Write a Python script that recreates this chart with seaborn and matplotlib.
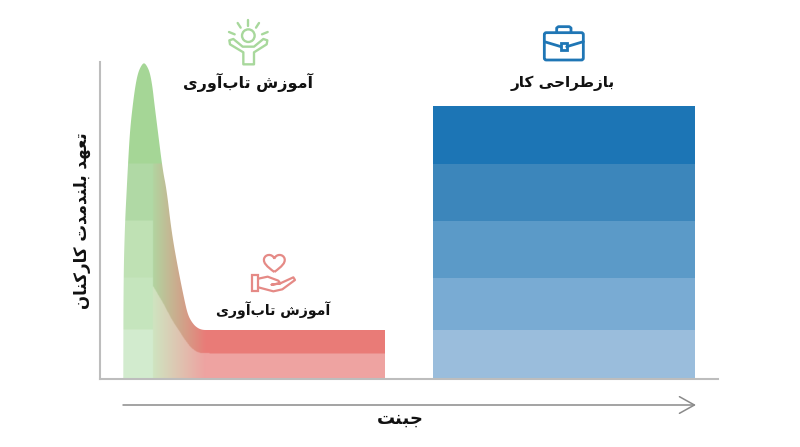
"""Resilience training vs job redesign: long-term employee commitment."""
import numpy as np
import pandas as pd
import matplotlib
matplotlib.use("Agg")
import matplotlib.pyplot as plt
import seaborn as sns
from matplotlib.colors import to_rgb
from matplotlib.patches import Circle, FancyBboxPatch, PathPatch, Polygon, Rectangle
from matplotlib.path import Path

TITLE_RESILIENCE = "آموزش تاب\u200cآوری"
TITLE_REDESIGN = "بازطراحی کار"
Y_LABEL = "تعهد بلندمدت کارکنان"
X_LABEL = "جبنت"

# band tops above the baseline, shared by both treatments
band_tops = [49, 101, 158, 215, 273]
band_names = ["b1", "b2", "b3", "b4", "b5"]
blue_heights = [49, 52, 57, 57, 58]
blue_colors = ["#9abddc", "#79abd3", "#5b9ac8", "#3c86bb", "#1c75b5"]
blue_span = [433, 695]

green_colors = ["#d3ecce", "#c6e5bd", "#bfe1b5", "#b0d9a5", "#a5d697"]

# outline of the green-to-red shape, height above the baseline
outline_x = [123.3, 123.5, 125, 126.7, 127.7, 130, 133, 135.5, 138, 141, 144, 147, 150, 152.5, 154.3,
             157.7, 162.7, 166.7, 171.7, 178.3, 185, 188, 191.7, 196, 201.7, 210, 385]
outline_h = [0, 102, 156, 189, 209, 249, 276, 294, 306, 313, 316.5, 313, 306, 292, 276,
             249, 209, 189, 146, 109, 76, 64, 57, 52, 49, 49, 49]
# edge between the dark and pale red bands
inner_x = [153.3, 158, 165, 171, 178.3, 184, 190, 196, 203.3, 385]
inner_h = [92, 84, 72, 60, 49, 40, 32, 27, 25, 25]

gradient_span = [153, 205]
green_dark, red_dark = "#b2d4a0", "#e97c78"
green_pale, red_pale = "#cfe4c0", "#eea3a1"

ISO, FIN, INI, MED = range(4)
FORMS = {
    "ا": (0xFE8D, 0xFE8E), "آ": (0xFE81, 0xFE82), "د": (0xFEA9, 0xFEAA),
    "ر": (0xFEAD, 0xFEAE), "ز": (0xFEAF, 0xFEB0), "و": (0xFEED, 0xFEEE),
    "ب": (0xFE8F, 0xFE90, 0xFE91, 0xFE92), "ت": (0xFE95, 0xFE96, 0xFE97, 0xFE98),
    "ج": (0xFE9D, 0xFE9E, 0xFE9F, 0xFEA0), "ح": (0xFEA1, 0xFEA2, 0xFEA3, 0xFEA4),
    "ش": (0xFEB5, 0xFEB6, 0xFEB7, 0xFEB8), "ط": (0xFEC1, 0xFEC2, 0xFEC3, 0xFEC4),
    "ع": (0xFEC9, 0xFECA, 0xFECB, 0xFECC), "ک": (0xFB8E, 0xFB8F, 0xFB90, 0xFB91),
    "ل": (0xFEDD, 0xFEDE, 0xFEDF, 0xFEE0), "م": (0xFEE1, 0xFEE2, 0xFEE3, 0xFEE4),
    "ن": (0xFEE5, 0xFEE6, 0xFEE7, 0xFEE8), "ه": (0xFEE9, 0xFEEA, 0xFEEB, 0xFEEC),
    "ی": (0xFBFC, 0xFBFD, 0xFBFE, 0xFBFF),
}


def shape(text):
    # matplotlib has no bidi or joining, so pick glyph forms and lay out right to left
    out = []
    for i, ch in enumerate(text):
        if ch not in FORMS:
            if ch != "\u200c":
                out.append(ch)
            continue
        prev = text[i - 1] if i else ""
        nxt = text[i + 1] if i + 1 < len(text) else ""
        from_prev = prev in FORMS and len(FORMS[prev]) == 4
        to_next = nxt in FORMS and len(FORMS[ch]) == 4
        form = (MED if to_next else FIN) if from_prev else (INI if to_next else ISO)
        out.append(chr(FORMS[ch][form]))
    return "".join(reversed(out))


def rounded(points, passes=3):
    # corner cutting so the read-off outline does not look faceted, ends stay put
    pts = np.array(points, dtype=float)
    for _ in range(passes):
        q = 0.75 * pts[:-1] + 0.25 * pts[1:]
        r = 0.25 * pts[:-1] + 0.75 * pts[1:]
        mid = np.empty((2 * len(q), 2))
        mid[0::2], mid[1::2] = q, r
        pts = np.vstack([pts[:1], mid, pts[-1:]])
    return pts


def gradient_image(xs, hs):
    t = np.clip((xs - gradient_span[0]) / (gradient_span[1] - gradient_span[0]), 0, 1)[..., None]
    edge = rounded(list(zip(inner_x, inner_h)))
    inner = np.interp(xs, edge[:, 0], edge[:, 1])
    dark = (1 - t) * np.array(to_rgb(green_dark)) + t * np.array(to_rgb(red_dark))
    pale = (1 - t) * np.array(to_rgb(green_pale)) + t * np.array(to_rgb(red_pale))
    img = np.where((hs > inner)[..., None], dark, pale)
    # the tall top of the curve stays plain green
    img = np.where((hs > band_tops[3])[..., None], np.array(to_rgb(green_colors[4])), img)
    band = np.searchsorted(band_tops, hs)
    strip = np.array([to_rgb(c) for c in green_colors])[np.clip(band, 0, 4)]
    return np.where((xs < gradient_span[0])[..., None], strip, img)


def draw_person(ax, color):
    def px(x, y):
        return 220 + x / 3, 15 + y / 3
    ax.add_patch(Circle(px(85, 62), 6.3, fill=False, ec=color, lw=1.7))
    for a, b in [((85, 15), (85, 33)), ((53, 24), (62, 38)), ((117, 24), (108, 38)),
                 ((27, 51), (44, 58)), ((143, 51), (126, 58))]:
        ax.plot(*zip(px(*a), px(*b)), color=color, lw=1.7, solid_capstyle="round")
    body = [(70, 148), (70, 112), (30, 88), (28, 76), (40, 72), (68, 95), (102, 95),
            (130, 72), (142, 76), (140, 88), (102, 112), (102, 148)]
    ax.add_patch(Polygon([px(*p) for p in body], closed=True, fill=False, ec=color, lw=1.7, joinstyle="round"))


def draw_heart_hand(ax, color):
    def px(x, y):
        return 245 + x / 3, 248 + y / 3
    verts = [(88, 72), (65, 55), (55, 45), (57, 33), (60, 18), (82, 16), (88, 32),
             (94, 16), (116, 18), (119, 33), (121, 45), (111, 55), (88, 72)]
    codes = [Path.MOVETO] + [Path.CURVE4] * 12
    ax.add_patch(PathPatch(Path([px(*v) for v in verts], codes), fill=False, ec=color, lw=1.6))
    x0, y0 = px(20, 82)
    x1, y1 = px(40, 128)
    ax.add_patch(Rectangle((x0, y0), x1 - x0, y1 - y0, fill=False, ec=color, lw=1.6))
    hand = [(40, 92), (68, 86), (100, 98), (106, 106), (80, 110), (106, 106), (145, 88),
            (150, 96), (112, 124), (85, 130), (40, 118)]
    ax.plot(*zip(*[px(*p) for p in hand]), color=color, lw=1.6, solid_joinstyle="round")


def draw_briefcase(ax, color):
    def px(x, y):
        return 535 + x / 3, 20 + y / 3
    x0, y0 = px(28, 38)
    x1, y1 = px(145, 120)
    ax.add_patch(FancyBboxPatch((x0 + 2, y0 + 2), x1 - x0 - 4, y1 - y0 - 4, boxstyle="round,pad=2",
                                fill=False, ec=color, lw=2))
    ax.plot(*zip(*[px(*p) for p in [(65, 38), (65, 24), (70, 20), (103, 20), (108, 24), (108, 38)]]),
            color=color, lw=2)
    ax.plot(*zip(*[px(*p) for p in [(28, 65), (78, 80)]]), color=color, lw=2)
    ax.plot(*zip(*[px(*p) for p in [(95, 80), (145, 65)]]), color=color, lw=2)
    x0, y0 = px(78, 70)
    x1, y1 = px(95, 90)
    ax.add_patch(Rectangle((x0, y0), x1 - x0, y1 - y0, fill=False, ec=color, lw=2))


sns.set_theme(style="white")
plt.rcParams["font.family"] = ["DejaVu Sans"]

W, H = 800, 447
fig = plt.figure(figsize=(8, 4.47), dpi=100, facecolor="white")
ax = fig.add_axes([100 / W, 1 - 379 / H, 618 / W, 317 / H])

blue = pd.DataFrame({"x": [sum(blue_span) / 2] * len(blue_heights), "band": band_names, "h": blue_heights})
sns.histplot(data=blue, x="x", weights="h", hue="band", hue_order=band_names[::-1],
             palette=blue_colors[::-1], bins=blue_span, multiple="stack", alpha=1,
             linewidth=0, legend=False, ax=ax)

grid_x, grid_h = np.meshgrid(np.arange(120, 390, 0.5), np.arange(0, 320, 0.5))
image = ax.imshow(gradient_image(grid_x, grid_h), extent=(120, 390, 0, 320), origin="lower",
                  aspect="auto", interpolation="bilinear")
shape_points = np.vstack([rounded(list(zip(outline_x, outline_h))), [(385, 0)]])
clip = Polygon(shape_points, closed=True, transform=ax.transData, fc="none", ec="none")
ax.add_patch(clip)
image.set_clip_path(clip)

ax.set(xlim=(100, 718), ylim=(0, 317), xticks=[], yticks=[], xlabel="", ylabel="")
sns.despine(ax=ax)
for side in ["left", "bottom"]:
    ax.spines[side].set_color("#bdbdbd")
    ax.spines[side].set_linewidth(1.5)

over = fig.add_axes([0, 0, 1, 1], facecolor="none")
over.set(xlim=(0, W), ylim=(H, 0))
over.axis("off")

text_style = dict(ha="center", va="center", fontweight="bold", color="#111111")
over.text(248, 82, shape(TITLE_RESILIENCE), fontsize=11.5, **text_style)
over.text(273.5, 310, shape(TITLE_RESILIENCE), fontsize=10.2, **text_style)
over.text(562.5, 83, shape(TITLE_REDESIGN), fontsize=11, **text_style)
over.text(400.5, 419, shape(X_LABEL), fontsize=13, **text_style)
over.text(82, 221, shape(Y_LABEL), fontsize=12, rotation=90, **text_style)

over.annotate("", xy=(696, 405), xytext=(123, 405),
              arrowprops=dict(arrowstyle="->,head_length=0.9,head_width=0.5", color="#8a8a8a", lw=1.1,
                              shrinkA=0, shrinkB=0))

draw_person(over, "#a8d89c")
draw_heart_hand(over, "#e58a86")
draw_briefcase(over, "#1f76b5")

fig.savefig("out.png", dpi=100, facecolor="white")
plt.close(fig)
